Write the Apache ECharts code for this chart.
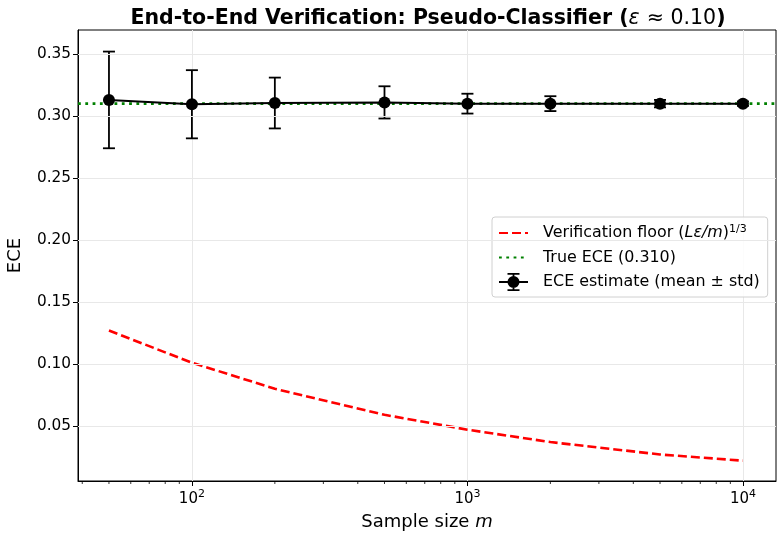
<!DOCTYPE html>
<html>
<head>
<meta charset="utf-8">
<script src="https://cdn.jsdelivr.net/npm/echarts@6/dist/echarts.min.js"></script>
<style>
  html, body { margin: 0; background: #fff; }
  #chart { width: 783px; height: 541px; }
</style>
</head>
<body>
<div id="chart"></div>
<script>
// data
const sampleSizes = [50, 100, 200, 500, 1000, 2000, 5000, 10000];
const eceMean = [0.313, 0.3095, 0.3105, 0.311, 0.310, 0.310, 0.310, 0.310];
const eceStd = [0.039, 0.0275, 0.0205, 0.013, 0.008, 0.006, 0.003, 0.0018];
const floorValues = [0.127, 0.101, 0.080, 0.059, 0.047, 0.037, 0.027, 0.022];
const trueEce = 0.310;
const yTicks = [0.05, 0.10, 0.15, 0.20, 0.25, 0.30, 0.35];
const xTicks = [100, 1000, 10000];
const minorXTicks = [40, 50, 60, 70, 80, 90, 200, 300, 400, 500, 600, 700, 800, 900,
  2000, 3000, 4000, 5000, 6000, 7000, 8000, 9000];

const xMin = 38.6, xMax = 13180;
const yMin = 0.0056, yMax = 0.3694;
const FONT = 'DejaVu Sans';

// legend handle: line + marker + error bar (29 x 18 box)
const errIcon = 'path://M0,8.1h29v1.8h-29z M13.6,0h1.8v18h-1.8z M8.5,0h12v1.8h-12z M8.5,16.2h12v1.8h-12z ' +
  'M8.5,9a6,6 0 1,1 12,0a6,6 0 1,1 -12,0z';

const chart = echarts.init(document.getElementById('chart'));

const option = {
  animation: false,
  backgroundColor: '#fff',
  textStyle: { fontFamily: FONT },
  title: {
    text: 'End-to-End Verification: Pseudo-Classifier ({e|ε} {n|≈ 0.10})',
    left: 423,
    textAlign: 'center',
    top: 3,
    textStyle: {
      fontFamily: FONT,
      fontSize: 20.5,
      fontWeight: 'bold',
      color: '#000',
      rich: {
        e: { fontFamily: FONT, fontSize: 20.5, fontStyle: 'italic', fontWeight: 'normal', color: '#000' },
        n: { fontFamily: FONT, fontSize: 20.5, fontWeight: 'normal', color: '#000' }
      }
    }
  },
  grid: {
    left: 78, right: 7, top: 30, bottom: 60,
    outerBoundsMode: 'none',
    containLabel: false,
    show: true, borderColor: '#000', borderWidth: 1
  },
  legend: {
    left: 492,
    top: 217,
    orient: 'vertical',
    itemWidth: 29,
    itemHeight: 18,
    itemGap: 6.5,
    padding: [7, 8, 6, 6],
    borderColor: '#d0d0d0',
    borderWidth: 1,
    borderRadius: 3,
    backgroundColor: 'rgba(255,255,255,0.85)',
    data: [
      { name: 'Verification floor', itemStyle: { opacity: 0 } },
      { name: 'True ECE (0.310)', itemStyle: { opacity: 0 } },
      { name: 'ECE estimate (mean ± std)', icon: errIcon }
    ],
    formatter: name => name === 'Verification floor'
      ? 'Verification floor ({i|Lε/m}){s|1/3}'
      : name,
    textStyle: {
      fontFamily: FONT,
      fontSize: 15.9,
      lineHeight: 18,
      color: '#000',
      padding: [0, 0, 0, 10],
      rich: {
        i: { fontFamily: FONT, fontSize: 15.9, fontStyle: 'italic', color: '#000' },
        s: { fontFamily: FONT, fontSize: 11, color: '#000', verticalAlign: 'top', padding: [0, 0, 9, 0] }
      }
    }
  },
  xAxis: {
    type: 'log',
    logBase: 10,
    min: xMin,
    max: xMax,
    name: 'Sample size {i|m}',
    nameLocation: 'middle',
    nameGap: 32,
    nameTextStyle: {
      fontFamily: FONT, fontSize: 18, color: '#000',
      rich: { i: { fontFamily: FONT, fontSize: 18, fontStyle: 'italic', color: '#000' } }
    },
    axisLine: { show: true, lineStyle: { color: '#000', width: 1 } },
    axisTick: { show: true, customValues: xTicks, length: 5, lineStyle: { color: '#000' } },
    axisLabel: {
      customValues: xTicks,
      margin: 8,
      color: '#000',
      fontFamily: FONT,
      fontSize: 15,
      formatter: v => '10{s|' + Math.round(Math.log10(v)) + '}',
      rich: { s: { fontFamily: FONT, fontSize: 11, color: '#000', verticalAlign: 'top', padding: [0, 0, 9, 0] } }
    },
    splitLine: { show: true, lineStyle: { color: '#e8e8e8', width: 1 } }
  },
  yAxis: {
    type: 'value',
    min: yMin,
    max: yMax,
    name: 'ECE',
    nameLocation: 'middle',
    nameGap: 54,
    nameTextStyle: { fontFamily: FONT, fontSize: 18, color: '#000' },
    axisLine: { show: true, lineStyle: { color: '#000', width: 1 } },
    axisTick: { show: true, customValues: yTicks, length: 5, lineStyle: { color: '#000' } },
    axisLabel: {
      customValues: yTicks,
      color: '#000',
      fontFamily: FONT,
      fontSize: 15.3,
      margin: 7,
      formatter: v => v.toFixed(2)
    },
    splitLine: { show: false }
  },
  series: [
    {
      // horizontal grid lines at the y ticks
      name: 'ygrid',
      type: 'line',
      data: [],
      silent: true,
      markLine: {
        symbol: 'none',
        silent: true,
        label: { show: false },
        lineStyle: { color: '#e8e8e8', type: 'solid', width: 1 },
        data: yTicks.map(v => ({ yAxis: v }))
      },
      z: 0
    },
    {
      // minor ticks on the log axis
      name: 'minorTicks',
      type: 'custom',
      silent: true,
      clip: false,
      data: minorXTicks.map(v => [v, yMin]),
      renderItem: (params, api) => {
        const p = api.coord([api.value(0), api.value(1)]);
        return {
          type: 'line',
          shape: { x1: p[0], y1: p[1], x2: p[0], y2: p[1] + 3 },
          style: { stroke: '#000', lineWidth: 0.8 }
        };
      },
      z: 5
    },
    {
      name: 'Verification floor',
      type: 'line',
      data: sampleSizes.map((m, i) => [m, floorValues[i]]),
      symbol: 'none',
      lineStyle: { color: '#ff0000', width: 2.6, type: [9, 4] },
      itemStyle: { color: '#ff0000' },
      z: 3
    },
    {
      name: 'True ECE (0.310)',
      type: 'line',
      data: [[xMin, trueEce], [xMax, trueEce]],
      symbol: 'none',
      lineStyle: { color: '#008000', width: 2.8, type: [2.8, 4.5] },
      itemStyle: { color: '#008000' },
      z: 3
    },
    {
      name: 'errorBars',
      type: 'custom',
      silent: true,
      data: sampleSizes.map((m, i) => [m, eceMean[i] - eceStd[i], eceMean[i] + eceStd[i]]),
      encode: { x: 0, y: [1, 2] },
      renderItem: (params, api) => {
        const x = api.value(0);
        const lo = api.coord([x, api.value(1)]);
        const hi = api.coord([x, api.value(2)]);
        const w = 6;
        const st = { stroke: '#000', lineWidth: 1.8 };
        return {
          type: 'group',
          children: [
            { type: 'line', shape: { x1: lo[0], y1: lo[1], x2: hi[0], y2: hi[1] }, style: st },
            { type: 'line', shape: { x1: lo[0] - w, y1: lo[1], x2: lo[0] + w, y2: lo[1] }, style: st },
            { type: 'line', shape: { x1: hi[0] - w, y1: hi[1], x2: hi[0] + w, y2: hi[1] }, style: st }
          ]
        };
      },
      z: 4
    },
    {
      name: 'ECE estimate (mean ± std)',
      type: 'line',
      data: sampleSizes.map((m, i) => [m, eceMean[i]]),
      symbol: 'circle',
      symbolSize: 12,
      showAllSymbol: true,
      lineStyle: { color: '#000', width: 2 },
      itemStyle: { color: '#000' },
      z: 6
    }
  ]
};

chart.setOption(option);
</script>
</body>
</html>
